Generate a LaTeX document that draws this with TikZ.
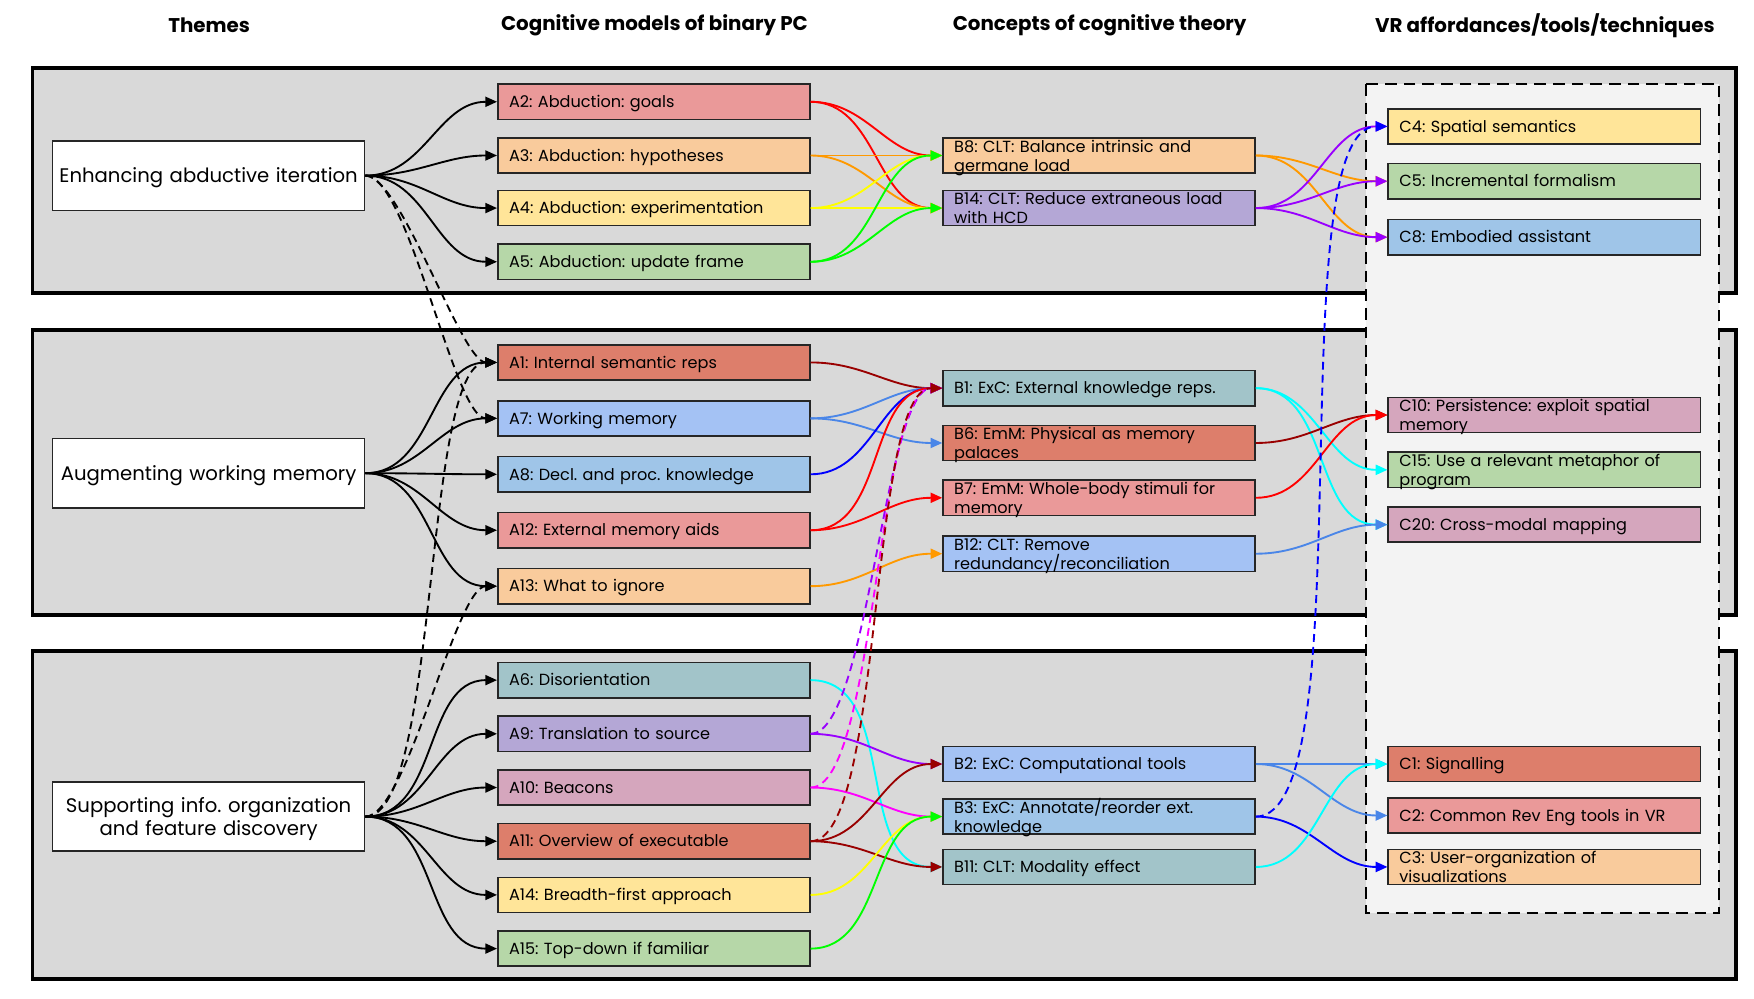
\documentclass[tikz,border=0pt]{standalone}
\usepackage{xcolor}
\usepackage{tikz}
\usetikzlibrary{arrows.meta}
\usepackage{fontspec}
\setmainfont{Poppins}
\frenchspacing
\definecolor{pcband}{HTML}{d9d9d9}
\definecolor{pcpanel}{HTML}{f3f3f3}
\definecolor{pcrose}{HTML}{ea9999}
\definecolor{pcpeach}{HTML}{f9cb9c}
\definecolor{pcsand}{HTML}{ffe599}
\definecolor{pcsage}{HTML}{b6d7a8}
\definecolor{pcbrick}{HTML}{dd7e6b}
\definecolor{pcsky}{HTML}{a4c2f4}
\definecolor{pcblue}{HTML}{9fc5e8}
\definecolor{pcteal}{HTML}{a2c4c9}
\definecolor{pclilac}{HTML}{b4a7d6}
\definecolor{pcmauve}{HTML}{d5a6bd}
\definecolor{pcred}{HTML}{ff0000}
\definecolor{pcorange}{HTML}{ff9900}
\definecolor{pcyellow}{HTML}{ffff00}
\definecolor{pcgreen}{HTML}{00ff00}
\definecolor{pcmaroon}{HTML}{990000}
\definecolor{pccorn}{HTML}{4a86e8}
\definecolor{pcdeep}{HTML}{0000ff}
\definecolor{pccyan}{HTML}{00ffff}
\definecolor{pcpurple}{HTML}{9900ff}
\definecolor{pcmagenta}{HTML}{ff00ff}

\begin{document}
\begin{tikzpicture}[x=0.02cm,y=-0.02cm,
  band/.style={draw=black,fill=pcband,line width=1.9pt},
  theme/.style={draw=black!85,fill=white,line width=0.8pt,minimum width=5.58cm,minimum height=1.24cm,text width=5.5cm,inner xsep=0.04cm,inner ysep=0pt,align=center,text height=7.6pt,text depth=0.6pt,font=\fontsize{10}{12}\selectfont},
  card/.style={draw=black!85,line width=0.8pt,minimum width=5.58cm,minimum height=0.63cm,text width=5.18cm,inner xsep=0.2cm,inner ysep=0pt,align=left,text height=6.3pt,text depth=0.5pt,font=\fontsize{8.2}{9.7}\selectfont},
  wrap/.style={card,text depth=9.6pt},
  head/.style={font=\fontsize{10.1}{12}\selectfont\bfseries},
  link/.style={-{Triangle[length=0.21cm,width=0.18cm]},line width=0.95pt,out=0,in=180},
  hop/.style={link,dash pattern=on 4pt off 2.6pt,looseness=0.4}]
  \useasboundingbox (0,0) rectangle (1568,893);
  \filldraw[band] (29,61) rectangle (1552,262);
  \filldraw[band] (29,295) rectangle (1552,550);
  \filldraw[band] (29,582) rectangle (1552,875);
  \filldraw[fill=pcpanel,draw=black,line width=1.1pt,dash pattern=on 6pt off 3.5pt] (1221,75) rectangle (1537,816);

  \node[head] (h1) at (187,23) {Themes};
  \node[head] (h2) at (585,23) {Cognitive models of binary PC};
  \node[head] (h3) at (983,23) {Concepts of cognitive theory};
  \node[head] (h4) at (1381,23) {VR affordances/tools/techniques};

  \node[theme] (t1) at (186.5,157) {Enhancing abductive iteration};
  \node[theme] (t2) at (186.5,423) {Augmenting working memory};
  \node[theme,text depth=12pt] (t3) at (186.5,730) {Supporting info. organization\\and feature discovery};

  \node[card,fill=pcrose] (a2) at (584.5,91) {A2: Abduction: goals};
  \node[card,fill=pcpeach] (a3) at (584.5,139) {A3: Abduction: hypotheses};
  \node[card,fill=pcsand] (a4) at (584.5,186) {A4: Abduction: experimentation};
  \node[card,fill=pcsage] (a5) at (584.5,234) {A5: Abduction: update frame};
  \node[card,fill=pcbrick] (a1) at (584.5,324) {A1: Internal semantic reps};
  \node[card,fill=pcsky] (a7) at (584.5,374) {A7: Working memory};
  \node[card,fill=pcblue] (a8) at (584.5,424) {A8: Decl. and proc. knowledge};
  \node[card,fill=pcrose] (a12) at (584.5,474) {A12: External memory aids};
  \node[card,fill=pcpeach] (a13) at (584.5,524) {A13: What to ignore};
  \node[card,fill=pcteal] (a6) at (584.5,608) {A6: Disorientation};
  \node[card,fill=pclilac] (a9) at (584.5,656) {A9: Translation to source};
  \node[card,fill=pcmauve] (a10) at (584.5,704) {A10: Beacons};
  \node[card,fill=pcbrick] (a11) at (584.5,752) {A11: Overview of executable};
  \node[card,fill=pcsand] (a14) at (584.5,800) {A14: Breadth-first approach};
  \node[card,fill=pcsage] (a15) at (584.5,848) {A15: Top-down if familiar};

  \node[wrap,fill=pcpeach] (b8) at (982.5,139) {B8: CLT: Balance intrinsic and\\germane load};
  \node[wrap,fill=pclilac] (b14) at (982.5,186) {B14: CLT: Reduce extraneous load\\with HCD};
  \node[card,fill=pcteal] (b1) at (982.5,347) {B1: ExC: External knowledge reps.};
  \node[wrap,fill=pcbrick] (b6) at (982.5,396) {B6: EmM: Physical as memory\\palaces};
  \node[wrap,fill=pcrose] (b7) at (982.5,445) {B7: EmM: Whole-body stimuli for\\memory};
  \node[wrap,fill=pcsky] (b12) at (982.5,495) {B12: CLT: Remove\\redundancy/reconciliation};
  \node[card,fill=pcsky] (b2) at (982.5,683) {B2: ExC: Computational tools};
  \node[wrap,fill=pcblue] (b3) at (982.5,730) {B3: ExC: Annotate/reorder ext.\\knowledge};
  \node[card,fill=pcteal] (b11) at (982.5,775) {B11: CLT: Modality effect};

  \node[card,fill=pcsand] (c4) at (1380.5,113) {C4: Spatial semantics};
  \node[card,fill=pcsage] (c5) at (1380.5,162) {C5: Incremental formalism};
  \node[card,fill=pcblue] (c8) at (1380.5,212) {C8: Embodied assistant};
  \node[wrap,fill=pcmauve] (c10) at (1380.5,371) {C10: Persistence: exploit spatial\\memory};
  \node[wrap,fill=pcsage] (c15) at (1380.5,420) {C15: Use a relevant metaphor of\\program};
  \node[card,fill=pcmauve] (c20) at (1380.5,469) {C20: Cross-modal mapping};
  \node[card,fill=pcbrick] (c1) at (1380.5,683) {C1: Signalling};
  \node[card,fill=pcrose] (c2) at (1380.5,729) {C2: Common Rev Eng tools in VR};
  \node[wrap,fill=pcpeach] (c3) at (1380.5,775) {C3: User-organization of\\visualizations};

  \draw[link] (t1.east) to (a2.west);
  \draw[link] (t1.east) to (a3.west);
  \draw[link] (t1.east) to (a4.west);
  \draw[link] (t1.east) to (a5.west);
  \draw[hop] (t1.east) to (a1.west);
  \draw[hop] (t1.east) to (a7.west);
  \draw[link] (t2.east) to (a1.west);
  \draw[link] (t2.east) to (a7.west);
  \draw[link] (t2.east) to (a8.west);
  \draw[link] (t2.east) to (a12.west);
  \draw[link] (t2.east) to (a13.west);
  \draw[link] (t3.east) to (a6.west);
  \draw[link] (t3.east) to (a9.west);
  \draw[link] (t3.east) to (a10.west);
  \draw[link] (t3.east) to (a11.west);
  \draw[link] (t3.east) to (a14.west);
  \draw[link] (t3.east) to (a15.west);
  \draw[hop] (t3.east) to (a1.west);
  \draw[hop] (t3.east) to (a13.west);

  \draw[link,pcred] (a2.east) to (b8.west);
  \draw[link,pcred] (a2.east) to (b14.west);
  \draw[link,pcorange] (a3.east) to (b8.west);
  \draw[link,pcorange] (a3.east) to (b14.west);
  \draw[link,pcyellow] (a4.east) to (b8.west);
  \draw[link,pcyellow] (a4.east) to (b14.west);
  \draw[link,pcgreen] (a5.east) to (b8.west);
  \draw[link,pcgreen] (a5.east) to (b14.west);
  \draw[link,pcmaroon] (a1.east) to (b1.west);
  \draw[link,pccorn] (a7.east) to (b1.west);
  \draw[link,pccorn] (a7.east) to (b6.west);
  \draw[link,pcdeep] (a8.east) to (b1.west);
  \draw[link,pcred] (a12.east) to (b1.west);
  \draw[link,pcred] (a12.east) to (b7.west);
  \draw[link,pcorange] (a13.east) to (b12.west);
  \draw[link,pccyan] (a6.east) to (b11.west);
  \draw[link,pcpurple] (a9.east) to (b2.west);
  \draw[hop,pcpurple] (a9.east) to (b1.west);
  \draw[link,pcmagenta] (a10.east) to (b3.west);
  \draw[hop,pcmagenta] (a10.east) to (b1.west);
  \draw[link,pcmaroon] (a11.east) to (b2.west);
  \draw[link,pcmaroon] (a11.east) to (b11.west);
  \draw[hop,pcmaroon] (a11.east) to (b1.west);
  \draw[link,pcyellow] (a14.east) to (b3.west);
  \draw[link,pcgreen] (a15.east) to (b3.west);

  \draw[link,pcorange] (b8.east) to (c5.west);
  \draw[link,pcorange] (b8.east) to (c8.west);
  \draw[link,pcpurple] (b14.east) to (c4.west);
  \draw[link,pcpurple] (b14.east) to (c5.west);
  \draw[link,pcpurple] (b14.east) to (c8.west);
  \draw[link,pccyan] (b1.east) to (c15.west);
  \draw[link,pccyan] (b1.east) to (c20.west);
  \draw[link,pcmaroon] (b6.east) to (c10.west);
  \draw[link,pcred] (b7.east) to (c10.west);
  \draw[link,pccorn] (b12.east) to (c20.west);
  \draw[link,pccorn] (b2.east) to (c1.west);
  \draw[link,pccorn] (b2.east) to (c2.west);
  \draw[link,pcdeep] (b3.east) to (c3.west);
  \draw[hop,pcdeep] (b3.east) to (c4.west);
  \draw[link,pccyan] (b11.east) to (c1.west);
\end{tikzpicture}
\end{document}
